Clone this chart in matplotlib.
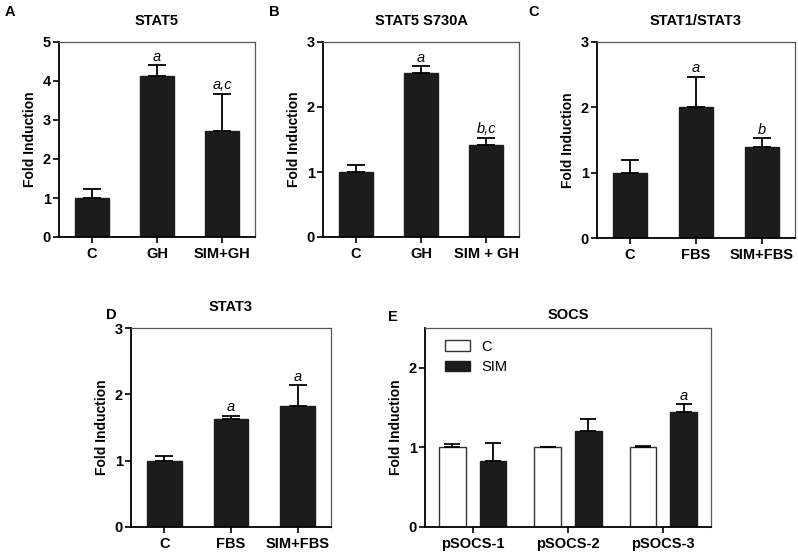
import matplotlib
matplotlib.use("Agg")
import matplotlib.pyplot as plt
import numpy as np

plt.rcParams['font.family'] = ['Liberation Sans', 'DejaVu Sans']

W, H = 798, 555

# ---------------- data ----------------
a_cats = ["C", "GH", "SIM+GH"]
a_vals = [1.0, 4.12, 2.72]
a_err = [0.23, 0.28, 0.95]
a_sig = ["", "a", "a,c"]

b_cats = ["C", "GH", "SIM + GH"]
b_vals = [1.0, 2.52, 1.42]
b_err = [0.10, 0.11, 0.11]
b_sig = ["", "a", "b,c"]

c_cats = ["C", "FBS", "SIM+FBS"]
c_vals = [1.0, 2.0, 1.40]
c_err = [0.20, 0.47, 0.13]
c_sig = ["", "a", "b"]

d_cats = ["C", "FBS", "SIM+FBS"]
d_vals = [1.0, 1.63, 1.82]
d_err = [0.07, 0.05, 0.32]
d_sig = ["", "a", "a"]

e_cats = ["pSOCS-1", "pSOCS-2", "pSOCS-3"]
e_c_vals = [1.0, 1.0, 1.0]
e_c_err = [0.04, 0.0, 0.02]
e_sim_vals = [0.83, 1.20, 1.44]
e_sim_err = [0.22, 0.16, 0.10]
e_sim_sig = ["", "", "a"]

BAR = "#1c1c1c"


def make_ax(l, r, t, b):
    ax = fig.add_axes([l / W, (H - b) / H, (r - l) / W, (b - t) / H])
    for s in ("left", "bottom"):
        ax.spines[s].set_linewidth(1.3)
        ax.spines[s].set_color("black")
    for s in ("top", "right"):
        ax.spines[s].set_linewidth(0.9)
        ax.spines[s].set_color("#555555")
    ax.tick_params(axis="both", direction="out", length=4, width=1.2,
                   labelsize=10.5, pad=2)
    ax.tick_params(axis="x", pad=3)
    return ax


def style_labels(ax):
    for lab in ax.get_xticklabels() + ax.get_yticklabels():
        lab.set_fontweight("bold")


def simple_panel(box, cats, vals, errs, sigs, ymax, title, letter, letter_xy, title_y):
    ax = make_ax(*box)
    x = np.arange(len(cats))
    ax.bar(x, vals, width=0.52, color=BAR, edgecolor=BAR, zorder=2)
    ax.errorbar(x, vals, yerr=[np.zeros(len(vals)), errs], fmt="none",
                ecolor="black", elinewidth=1.3, capsize=6.5, capthick=1.3, zorder=3)
    for xi, v, e, s in zip(x, vals, errs, sigs):
        if s:
            ax.annotate(s, (xi, v + e), xytext=(0, 1), textcoords="offset points",
                        ha="center", va="bottom", fontsize=10.5, style="italic")
    ax.set_xlim(-0.5, len(cats) - 0.5)
    ax.set_ylim(0, ymax)
    ax.set_yticks(np.arange(0, ymax + 0.01, 1))
    ax.set_xticks(x)
    ax.set_xticklabels(cats)
    ax.set_ylabel("Fold Induction", fontsize=10, fontweight="bold", labelpad=4)
    style_labels(ax)
    l, r, t, b = box
    fig.text(((l + r) / 2) / W, 1 - title_y / H, title, ha="center", va="center",
             fontsize=10.5, fontweight="bold")
    fig.text(letter_xy[0] / W, 1 - letter_xy[1] / H, letter, ha="left", va="center",
             fontsize=10.5, fontweight="bold")
    return ax


fig = plt.figure(figsize=(W / 100, H / 100), dpi=100)

simple_panel((59, 255, 42, 237), a_cats, a_vals, a_err, a_sig, 5, "STAT5", "A", (5, 12), 21)
simple_panel((323, 519, 42, 237), b_cats, b_vals, b_err, b_sig, 3, "STAT5 S730A", "B", (269, 12), 21)
simple_panel((597, 795, 42, 238), c_cats, c_vals, c_err, c_sig, 3, "STAT1/STAT3", "C", (528, 12), 21)
simple_panel((131, 331, 328, 527), d_cats, d_vals, d_err, d_sig, 3, "STAT3", "D", (106, 315), 307)

# Panel E
ax = make_ax(425, 711, 328, 527)
x = np.arange(len(e_cats))
off = 0.214
wd = 0.28
ax.bar(x - off, e_c_vals, width=wd, color="white", edgecolor="#333333",
       linewidth=1.0, zorder=2, label="C")
ax.bar(x + off, e_sim_vals, width=wd, color=BAR, edgecolor=BAR, zorder=2, label="SIM")
ax.errorbar(x - off, e_c_vals, yerr=[np.zeros(3), e_c_err], fmt="none",
            ecolor="black", elinewidth=1.2, capsize=5.5, capthick=1.2, zorder=3)
ax.errorbar(x + off, e_sim_vals, yerr=[np.zeros(3), e_sim_err], fmt="none",
            ecolor="black", elinewidth=1.3, capsize=5.5, capthick=1.3, zorder=3)
for xi, v, e, s in zip(x + off, e_sim_vals, e_sim_err, e_sim_sig):
    if s:
        ax.annotate(s, (xi, v + e), xytext=(0, 1), textcoords="offset points",
                    ha="center", va="bottom", fontsize=10.5, style="italic")
ax.set_xlim(-0.5, 2.5)
ax.set_ylim(0, 2.5)
ax.set_yticks([0, 1, 2])
ax.set_xticks(x)
ax.set_xticklabels(e_cats)
ax.set_ylabel("Fold Induction", fontsize=10, fontweight="bold", labelpad=4)
style_labels(ax)
ax.legend(loc="upper left", bbox_to_anchor=(0.03, 1.0), frameon=False, fontsize=10.5,
          handlelength=1.7, handleheight=0.75, handletextpad=0.8, labelspacing=0.45,
          borderaxespad=0.4)
fig.text(568 / W, 1 - 315 / H, "SOCS", ha="center", va="center",
         fontsize=10.5, fontweight="bold")
fig.text(388 / W, 1 - 317 / H, "E", ha="left", va="center",
         fontsize=10.5, fontweight="bold")

fig.savefig("out.png", dpi=100)
